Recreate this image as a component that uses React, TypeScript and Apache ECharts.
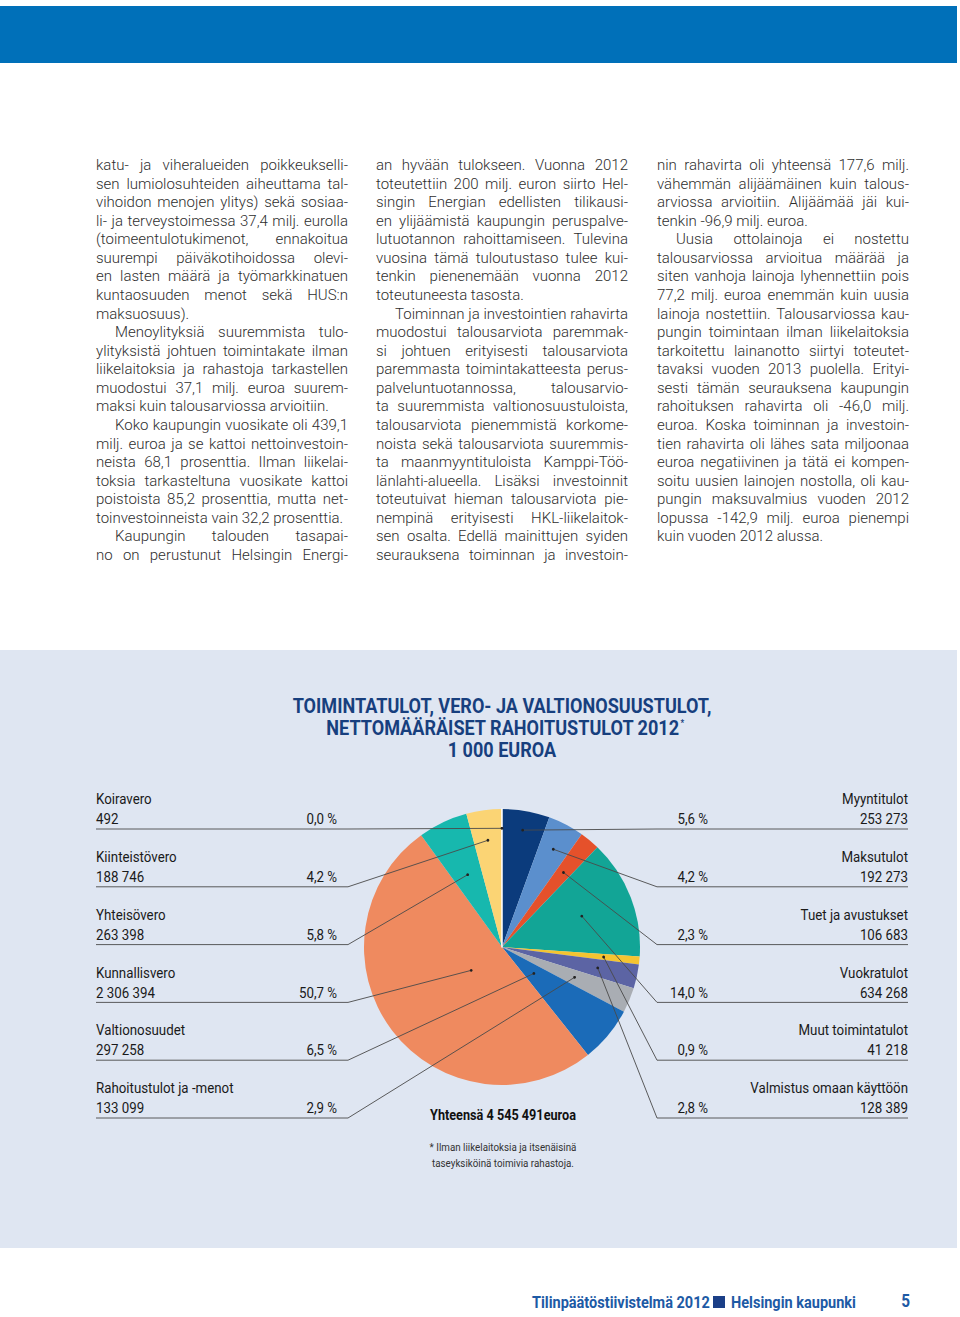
import React, { useEffect, useRef } from "react";
import * as echarts from "echarts";

// ---------- chart data ----------
const leftNames = ["Koiravero", "Kiinteistövero", "Yhteisövero", "Kunnallisvero", "Valtionosuudet", "Rahoitustulot ja -menot"];
const leftValues = [492, 188746, 263398, 2306394, 297258, 133099];
const leftColors = ["#ffffff", "#fbd474", "#17b8ae", "#ef8a5f", "#1b6bb8", "#a9adb3"];

const rightNames = ["Myyntitulot", "Maksutulot", "Tuet ja avustukset", "Vuokratulot", "Muut toimintatulot", "Valmistus omaan käyttöön"];
const rightValues = [253273, 192273, 106683, 634268, 41218, 128389];
const rightColors = ["#0b3b7c", "#5b8fcd", "#e5512b", "#12a596", "#f4c431", "#5c64a4"];

const titleLines = ["TOIMINTATULOT, VERO- JA VALTIONOSUUSTULOT,", "NETTOMÄÄRÄISET RAHOITUSTULOT 2012", "1 000 EUROA"];
const footnoteLines = ["* Ilman liikelaitoksia ja itsenäisinä", "taseyksiköinä toimivia rahastoja."];
const footerParts = ["Tilinpäätöstiivistelmä 2012", "Helsingin kaupunki", "5"];

// ---------- article text (columns -> paragraphs -> lines) ----------
const col1 = [
  ["katu- ja viheralueiden poikkeukselli-", "sen lumiolosuhteiden aiheuttama tal-", "vihoidon menojen ylitys) sekä sosiaa-", "li- ja terveystoimessa 37,4 milj. eurolla", "(toimeentulotukimenot, ennakoitua", "suurempi päiväkotihoidossa olevi-", "en lasten määrä ja työmarkkinatuen", "kuntaosuuden menot sekä HUS:n", "maksuosuus)."],
  ["Menoylityksiä suuremmista tulo-", "ylityksistä johtuen toimintakate ilman", "liikelaitoksia ja rahastoja tarkastellen", "muodostui 37,1 milj. euroa suurem-", "maksi kuin talousarviossa arvioitiin."],
  ["Koko kaupungin vuosikate oli 439,1", "milj. euroa ja se kattoi nettoinvestoin-", "neista 68,1 prosenttia. Ilman liikelai-", "toksia tarkasteltuna vuosikate kattoi", "poistoista 85,2 prosenttia, mutta net-", "toinvestoinneista vain 32,2 prosenttia."],
  ["Kaupungin talouden tasapai-", "no on perustunut Helsingin Energi-"],
];
const col2 = [
  ["an hyvään tulokseen. Vuonna 2012", "toteutettiin 200 milj. euron siirto Hel-", "singin Energian edellisten tilikausi-", "en ylijäämistä kaupungin peruspalve-", "lutuotannon rahoittamiseen. Tulevina", "vuosina tämä tuloutustaso tulee kui-", "tenkin pienenemään vuonna 2012", "toteutuneesta tasosta."],
  ["Toiminnan ja investointien rahavirta", "muodostui talousarviota paremmak-", "si johtuen erityisesti talousarviota", "paremmasta toimintakatteesta perus-", "palveluntuotannossa, talousarvio-", "ta suuremmista valtionosuustuloista,", "talousarviota pienemmistä korkome-", "noista sekä talousarviota suuremmis-", "ta maanmyyntituloista Kamppi-Töö-", "länlahti-alueella. Lisäksi investoinnit", "toteutuivat hieman talousarviota pie-", "nempinä erityisesti HKL-liikelaitok-", "sen osalta. Edellä mainittujen syiden", "seurauksena toiminnan ja investoin-"],
];
const col3 = [
  ["nin rahavirta oli yhteensä 177,6 milj.", "vähemmän alijäämäinen kuin talous-", "arviossa arvioitiin. Alijäämää jäi kui-", "tenkin -96,9 milj. euroa."],
  ["Uusia ottolainoja ei nostettu", "talousarviossa arvioitua määrää ja", "siten vanhoja lainoja lyhennettiin pois", "77,2 milj. euroa enemmän kuin uusia", "lainoja nostettiin. Talousarviossa kau-", "pungin toimintaan ilman liikelaitoksia", "tarkoitettu lainanotto siirtyi toteutet-", "tavaksi vuoden 2013 puolella. Erityi-", "sesti tämän seurauksena kaupungin", "rahoituksen rahavirta oli -46,0 milj.", "euroa. Koska toiminnan ja investoin-", "tien rahavirta oli lähes sata miljoonaa", "euroa negatiivinen ja tätä ei kompen-", "soitu uusien lainojen nostolla, oli kau-", "pungin maksuvalmius vuoden 2012", "lopussa -142,9 milj. euroa pienempi", "kuin vuoden 2012 alussa."],
];

// ---------- layout (positions / styles) ----------
const W = 960;
const H = 1317;
const CX = 502;
const CY = 947;
const R = 138;
const leftDotR = [0.86, 0.78, 0.58, 0.28, 0.3, 0.57];
const rightDotR = [0.86, 0.8, 0.7, 0.62, 0.74, 0.71];
const ROW0 = 829;
const ROWSTEP = 57.8;

const FONT = "Roboto";
const BODY_SIZE = 15;
const BODY_WEIGHT = 300;

const fmt = (n: number) => String(n).replace(/\B(?=(\d{3})+(?!\d))/g, " ");

export default function App() {
  const ref = useRef<HTMLDivElement>(null);
  useEffect(() => {
    document.body.style.margin = "0";
    const el = ref.current!;
    const chart = echarts.init(el, null, { renderer: "svg" });

    const canvas = document.createElement("canvas");
    const ctx = canvas.getContext("2d")!;
    const measure = (s: string, size: number, weight: any) => {
      ctx.font = `${weight} ${size}px ${FONT}`;
      return ctx.measureText(s).width;
    };
    // condensed look: horizontal squeeze fitted to reference widths
    const labScale = 158 / measure("Valmistus omaan käyttöön", 15, "normal");
    const titleScale = 419 / measure("TOIMINTATULOT, VERO- JA VALTIONOSUUSTULOT,", 20, "bold");
    const footScale = 178 / measure("Tilinpäätöstiivistelmä 2012", 17, "bold");
    const totScale = 146 / measure("Yhteensä 4 545 491euroa", 15, "bold");
    const noteScale = 147 / measure("* Ilman liikelaitoksia ja itsenäisinä", 11, "normal");

    const total = [...leftValues, ...rightValues].reduce((a, b) => a + b, 0);
    const pct = (v: number) => ((v / total) * 100).toFixed(1).replace(".", ",") + " %";

    type Item = { name: string; value: number; color: string; side: "L" | "R"; idx: number };
    const items: Item[] = [
      ...rightNames.map((n, i) => ({ name: n, value: rightValues[i], color: rightColors[i], side: "R" as const, idx: i })),
      ...leftNames.map((n, i) => ({ name: n, value: leftValues[i], color: leftColors[i], side: "L" as const, idx: i })).reverse(),
    ];
    const dots: Record<string, [number, number]> = {};
    let cum = 0;
    items.forEach((it) => {
      const mid = ((cum + it.value / 2) / total) * 2 * Math.PI;
      cum += it.value;
      const f = it.side === "L" ? leftDotR[it.idx] : rightDotR[it.idx];
      dots[it.side + it.idx] = [CX + R * f * Math.sin(mid), CY - R * f * Math.cos(mid)];
    });

    const g: any[] = [];
    const txt = (text: string, x: number, y: number, o: any = {}, z = 20) => {
      const align = o.align || "left";
      g.push({
        type: "text",
        x,
        y,
        z,
        scaleX: o.scaleX || 1,
        silent: true,
        style: {
          text,
          fill: o.fill || "#1a1a1a",
          fontSize: o.fontSize || 14,
          fontFamily: FONT,
          fontWeight: o.fontWeight || "normal",
          align,
          textAlign: align,
          verticalAlign: "middle",
          textVerticalAlign: "middle",
          rich: o.rich,
        },
      });
    };

    // header bar
    g.push({ type: "rect", z: 0, silent: true, shape: { x: 0, y: 6, width: 957, height: 57 }, style: { fill: "#0070b9" } });
    // chart background
    g.push({ type: "rect", z: 0, silent: true, shape: { x: 0, y: 650, width: 957, height: 598 }, style: { fill: "#dfe6f2" } });

    // article text, justified
    const cols: { paras: string[][]; x0: number; x1: number; contStart: boolean; contEnd: boolean }[] = [
      { paras: col1, x0: 96, x1: 348, contStart: true, contEnd: true },
      { paras: col2, x0: 376, x1: 628, contStart: true, contEnd: true },
      { paras: col3, x0: 657, x1: 909, contStart: true, contEnd: false },
    ];
    const bodyStyle = { fill: "#2e2e2e", fontSize: BODY_SIZE, fontWeight: BODY_WEIGHT };
    cols.forEach((c) => {
      let line = 0;
      c.paras.forEach((p, pi) => {
        p.forEach((l, li) => {
          const y = 165 + line * 18.57;
          line++;
          const indent = li === 0 && !(pi === 0 && c.contStart) ? 19 : 0;
          const lastOfPara = li === p.length - 1;
          const contLast = pi === c.paras.length - 1 && c.contEnd;
          const justify = !lastOfPara || contLast;
          const words = l.split(" ");
          if (!justify || words.length < 2) {
            txt(l, c.x0 + indent, y, bodyStyle);
            return;
          }
          const ws = words.map((w) => measure(w, BODY_SIZE, BODY_WEIGHT));
          const sum = ws.reduce((a, b) => a + b, 0);
          const gap = (c.x1 - c.x0 - indent - sum) / (words.length - 1);
          let x = c.x0 + indent;
          words.forEach((w, wi) => {
            txt(w, x, y, bodyStyle);
            x += ws[wi] + gap;
          });
        });
      });
    });

    // title
    const titleStyle = { fill: "#173f7e", fontSize: 20, fontWeight: "bold", scaleX: titleScale, align: "center" };
    txt(titleLines[0], CX, 706, titleStyle);
    txt(titleLines[1] + "{s|*}", CX + 3, 728, {
      ...titleStyle,
      rich: { s: { fontSize: 9, fontWeight: "bold", fill: "#173f7e", fontFamily: FONT, verticalAlign: "top", padding: [0, 0, 8, 1] } },
    });
    txt(titleLines[2], CX, 750, titleStyle);

    // labels + connectors
    const lineStyle = { stroke: "#4a4a4a", lineWidth: 0.9 };
    const lab = { fontSize: 15, scaleX: labScale };
    leftNames.forEach((n, i) => {
      const uy = ROW0 + i * ROWSTEP;
      txt(n, 96, uy - 30, lab);
      txt(fmt(leftValues[i]), 96, uy - 10, lab);
      txt(pct(leftValues[i]), 337, uy - 10, { ...lab, align: "right" });
      const d = dots["L" + i];
      g.push({ type: "polyline", z: 30, silent: true, shape: { points: [[96, uy], [348, uy], d] }, style: { ...lineStyle, fill: null } });
      g.push({ type: "circle", z: 31, silent: true, shape: { cx: d[0], cy: d[1], r: 1.4 }, style: { fill: "#222" } });
    });
    rightNames.forEach((n, i) => {
      const uy = ROW0 + i * ROWSTEP;
      txt(n, 908, uy - 30, { ...lab, align: "right" });
      txt(fmt(rightValues[i]), 908, uy - 10, { ...lab, align: "right" });
      txt(pct(rightValues[i]), 708, uy - 10, { ...lab, align: "right" });
      const d = dots["R" + i];
      g.push({ type: "polyline", z: 30, silent: true, shape: { points: [[908, uy], [657, uy], d] }, style: { ...lineStyle, fill: null } });
      g.push({ type: "circle", z: 31, silent: true, shape: { cx: d[0], cy: d[1], r: 1.4 }, style: { fill: "#222" } });
    });

    // total + footnote
    txt("Yhteensä " + fmt(total) + "euroa", 503, 1115, { fontSize: 15, fontWeight: "bold", fill: "#111", align: "center", scaleX: totScale });
    txt(footnoteLines[0], 503, 1147, { fontSize: 11, fill: "#333", align: "center", scaleX: noteScale });
    txt(footnoteLines[1], 503, 1163, { fontSize: 11, fill: "#333", align: "center", scaleX: noteScale });

    // footer
    const foot = { fontSize: 17, fontWeight: "bold", fill: "#1d5aa5", scaleX: footScale };
    txt(footerParts[0], 532, 1302, foot);
    g.push({ type: "rect", z: 20, silent: true, shape: { x: 713, y: 1296, width: 12, height: 12 }, style: { fill: "#1b3f87" } });
    txt(footerParts[1], 731, 1302, foot);
    txt(footerParts[2], 910, 1301, { ...foot, fontSize: 18, align: "right" });

    chart.setOption({
      animation: false,
      backgroundColor: "#ffffff",
      graphic: { elements: g },
      series: [
        {
          type: "pie",
          silent: true,
          center: [CX, CY],
          radius: [0, R],
          startAngle: 90,
          clockwise: true,
          label: { show: false },
          labelLine: { show: false },
          emphasis: { disabled: true },
          data: items.map((it) => ({
            name: it.name,
            value: it.value,
            itemStyle: it.name === "Koiravero"
              ? { color: "#ffffff", borderColor: "#ffffff", borderWidth: 1.5 }
              : { color: it.color, borderWidth: 0 },
          })),
        },
      ],
    });
    return () => chart.dispose();
  }, []);
  return <div ref={ref} style={{ position: "absolute", left: 0, top: 0, width: W, height: H }} />;
}
